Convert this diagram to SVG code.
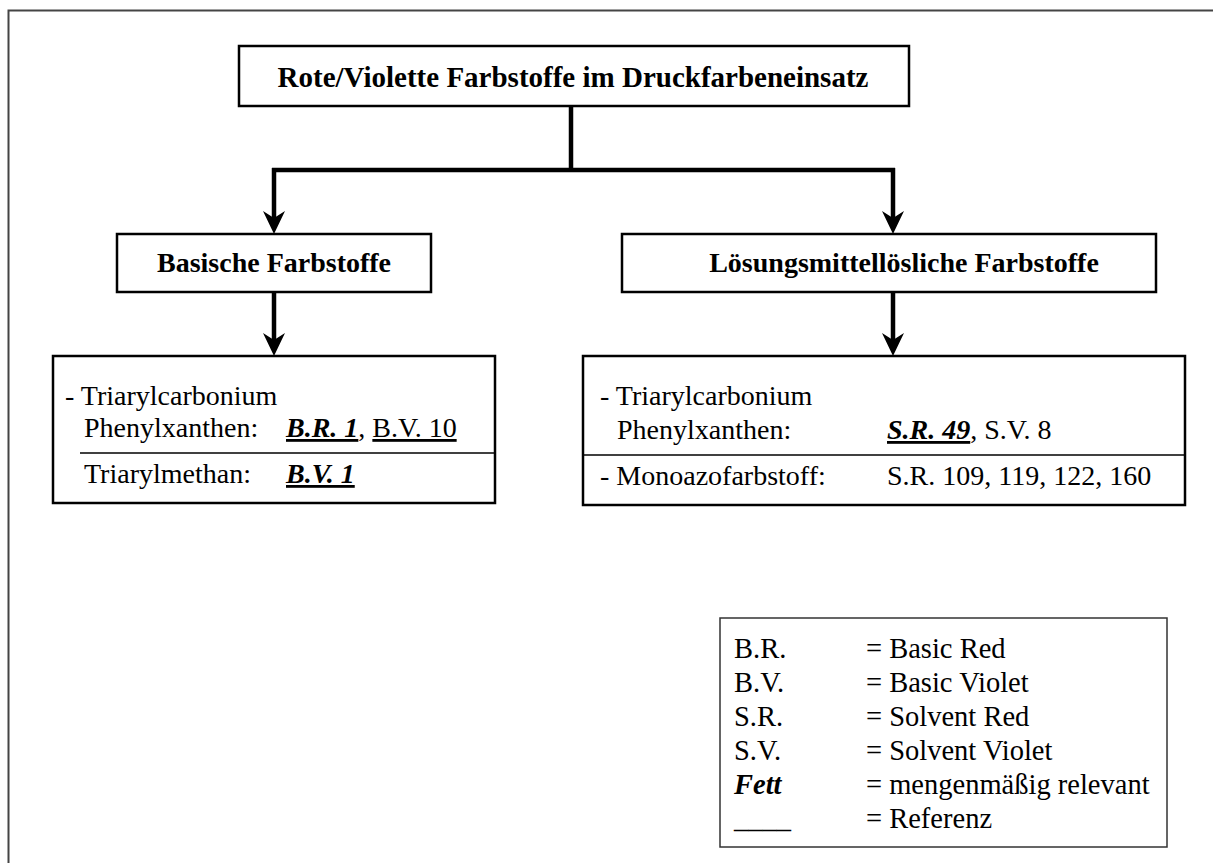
<svg xmlns="http://www.w3.org/2000/svg" width="1213" height="863" viewBox="0 0 1213 863">
  <style>
    .box { fill: #fff; stroke: #000; stroke-width: 2.5; }
    .legend-box { fill: #fff; stroke: #333; stroke-width: 1.5; }
    .serif { font-family: "Liberation Serif", "Times New Roman", serif; fill: #000; }
    .title { font-weight: bold; font-size: 29px; }
    .head { font-weight: bold; font-size: 28px; }
    .body { font-size: 28px; }
    .legend { font-size: 28.5px; }
    .bi { font-weight: bold; font-style: italic; text-decoration: underline; }
    .u { text-decoration: underline; }
    .wire { fill: none; stroke: #000; stroke-width: 4.5; }
    .tip { fill: #000; }
    .rule { stroke: #000; stroke-width: 1.5; }
  </style>

  <!-- page frame -->
  <path d="M8.5,863 V10.5 H1213" fill="none" stroke="#444" stroke-width="2"/>

  <!-- connectors -->
  <g id="connectors">
    <path class="wire" d="M571,106 V170"/>
    <path class="wire" d="M272,170 H895"/>
    <path class="wire" d="M274,168 V222"/>
    <path class="wire" d="M893,168 V222"/>
    <path class="wire" d="M274,292 V344"/>
    <path class="wire" d="M893,292 V344"/>
    <path class="tip" d="M274,234 L263,211 L274,218 L285,211 Z"/>
    <path class="tip" d="M893,234 L882,211 L893,218 L904,211 Z"/>
    <path class="tip" d="M274,356 L263,333 L274,340 L285,333 Z"/>
    <path class="tip" d="M893,356 L882,333 L893,340 L904,333 Z"/>
  </g>

  <g id="root">
    <rect class="box" x="239" y="46" width="670" height="60"/>
    <text class="serif title" x="573" y="87" text-anchor="middle">Rote/Violette Farbstoffe im Druckfarbeneinsatz</text>
  </g>

  <g id="basic">
    <rect class="box" x="117" y="234" width="314" height="58"/>
    <text class="serif head" x="274" y="272" text-anchor="middle">Basische Farbstoffe</text>
  </g>

  <g id="solvent">
    <rect class="box" x="622" y="234" width="534" height="58"/>
    <text class="serif head" x="904" y="272" text-anchor="middle">Lösungsmittellösliche Farbstoffe</text>
  </g>

  <g id="basic-list">
    <rect class="box" x="53" y="356" width="442" height="147"/>
    <text class="serif body" x="65" y="405">- Triarylcarbonium</text>
    <text class="serif body" x="84" y="437">Phenylxanthen:</text>
    <text class="serif body" x="286" y="437"><tspan class="bi">B.R. 1</tspan>, <tspan class="u">B.V. 10</tspan></text>
    <line class="rule" x1="80" y1="453" x2="495" y2="453"/>
    <text class="serif body" x="84" y="483">Triarylmethan:</text>
    <text class="serif body" x="286" y="483"><tspan class="bi">B.V. 1</tspan></text>
  </g>

  <g id="solvent-list">
    <rect class="box" x="583" y="356" width="602" height="149"/>
    <text class="serif body" x="600" y="405">- Triarylcarbonium</text>
    <text class="serif body" x="617" y="439">Phenylxanthen:</text>
    <text class="serif body" x="887" y="439"><tspan class="bi">S.R. 49</tspan>, S.V. 8</text>
    <line class="rule" x1="583" y1="455" x2="1185" y2="455"/>
    <text class="serif body" x="600" y="485">- Monoazofarbstoff:</text>
    <text class="serif body" x="887" y="485">S.R. 109, 119, 122, 160</text>
  </g>

  <g id="legend">
    <rect class="legend-box" x="720" y="618" width="447" height="229"/>
    <text class="serif legend" x="734" y="658">B.R.</text>
    <text class="serif legend" x="866" y="658">= Basic Red</text>
    <text class="serif legend" x="734" y="692">B.V.</text>
    <text class="serif legend" x="866" y="692">= Basic Violet</text>
    <text class="serif legend" x="734" y="726">S.R.</text>
    <text class="serif legend" x="866" y="726">= Solvent Red</text>
    <text class="serif legend" x="734" y="760">S.V.</text>
    <text class="serif legend" x="866" y="760">= Solvent Violet</text>
    <text class="serif legend" x="734" y="794" font-weight="bold" font-style="italic">Fett</text>
    <text class="serif legend" x="866" y="794">= mengenmäßig relevant</text>
    <text class="serif legend" x="734" y="828">____</text>
    <text class="serif legend" x="866" y="828">= Referenz</text>
  </g>
</svg>
